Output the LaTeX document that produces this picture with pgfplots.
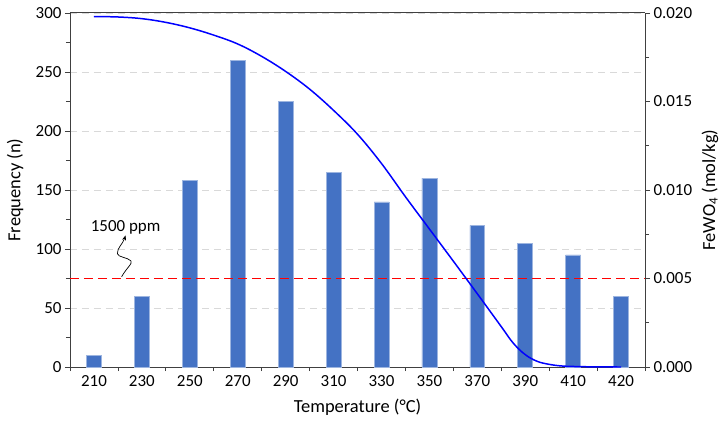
\documentclass[border=0pt]{standalone}
\usepackage{pgfplots}
\pgfplotsset{compat=1.18}
\usetikzlibrary{arrows.meta}
\usepackage{fontspec}
\setmainfont{Carlito}
\definecolor{barblue}{HTML}{4472C4}
\definecolor{baredge}{HTML}{9DB5E0}
\definecolor{axgray}{HTML}{404040}
\definecolor{gridgray}{HTML}{D9D9D9}
\begin{document}
\begin{tikzpicture}
\pgfplotsset{
  every axis/.append style={
    width=575bp, height=354bp, scale only axis,
    xmin=-0.5, xmax=11.5,
    font=\fontsize{17}{20}\selectfont,
    label style={font=\fontsize{18.5}{22}\selectfont},
    /pgf/number format/assume math mode=true,
    tick align=outside,
    major tick length=5bp, minor tick length=4bp,
    every tick/.style={axgray, line width=0.8pt},
    axis line style={axgray, line width=1pt},
  }
}
\begin{axis}[
  axis y line*=left, axis x line*=bottom,
  ymin=0, ymax=300,
  ytick={0,50,...,300},
  minor ytick={25,75,...,275},
  xtick={0,...,11},
  xticklabels={210,230,250,270,290,310,330,350,370,390,410,420},
  major x tick style={draw=none},
  minor xtick={-0.5,0.5,...,11.5},
  ymajorgrids, grid style={gridgray, dash pattern=on 7bp off 5bp, line width=0.8pt},
  xlabel={Temperature (°C)},
  ylabel={Frequency (n)},
  xlabel style={at={(axis description cs:0.5,0)}, anchor=center, yshift=-40bp},
  ylabel style={at={(axis description cs:0,0.5)}, anchor=center, rotate=0, yshift=55bp},
  clip=false,
]
\addplot[ybar, bar width=0.31, fill=barblue, draw=baredge, line width=0.6pt]
  coordinates {(0,10) (1,60) (2,158) (3,260) (4,225) (5,165) (6,140) (7,160) (8,120) (9,105) (10,95) (11,60)};
\addplot[red, line width=1.5pt, dash pattern=on 9bp off 5bp] coordinates {(-0.5,75) (11.5,75)};
\draw[-{Stealth[length=5bp,width=4bp]}, black, line width=0.7pt]
  (axis cs:0.577,76.5) .. controls (axis cs:0.68,84) and (axis cs:0.82,88) .. (axis cs:0.77,90)
  .. controls (axis cs:0.70,93) and (axis cs:0.50,93) .. (axis cs:0.49,96)
  .. controls (axis cs:0.48,101) and (axis cs:0.60,104) .. (axis cs:0.66,111.5);
\node[anchor=center, font=\fontsize{17}{20}\selectfont] at (axis cs:0.66,118) {1500 ppm};
\end{axis}
\begin{axis}[
  axis y line*=right, axis x line*=top,
  ymin=0, ymax=0.02,
  ytick={0,0.005,0.01,0.015,0.02},
  minor ytick={0.0025,0.0075,0.0125,0.0175},
  xtick=\empty,
  yticklabel style={/pgf/number format/.cd, fixed, fixed zerofill, precision=3},
  scaled y ticks=false,
  ylabel={FeWO\textsubscript{4} (mol/kg)},
  ylabel style={at={(axis description cs:1,0.5)}, anchor=center, yshift=-65bp},
]
\addplot[blue, line width=1.5pt, smooth, tension=0.6] coordinates {
(0,0.01980) (0.5,0.019775) (1.0,0.01968) (1.5,0.01947) (2.0,0.01916) (2.5,0.01875)
(3.0,0.01825) (3.5,0.01755) (4.0,0.01670) (4.5,0.01570) (5.0,0.01450) (5.5,0.01315)
(6.0,0.01150) (6.5,0.00962) (7.0,0.00780) (7.5,0.00598) (8.0,0.00414) (8.5,0.00228)
(8.75,0.00135) (9.0,0.00070) (9.25,0.00032) (9.5,0.00015) (9.75,0.00006) (10.0,0.00003)
(10.5,0.000005) (11,0.0)};
\end{axis}
\pgfresetboundingbox
\path ([shift={(-70bp,-55bp)}]current axis.south west) rectangle ([shift={(83bp,13bp)}]current axis.north east);
\end{tikzpicture}
\end{document}
